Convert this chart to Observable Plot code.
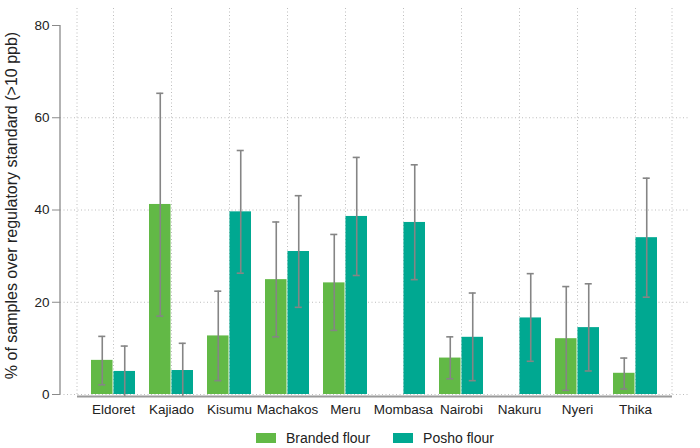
<!DOCTYPE html>
<html>
<head>
<meta charset="utf-8">
<script src="https://cdn.jsdelivr.net/npm/d3@7"></script>
<script src="https://cdn.jsdelivr.net/npm/@observablehq/plot@0.6"></script>
<style>
  html, body { margin: 0; padding: 0; background: #fff; }
  body { width: 700px; height: 448px; position: relative; font-family: "Liberation Sans", Arial, sans-serif; color: #222; }
  #legend { position: absolute; left: 256px; top: 430px; display: flex; align-items: center; font-size: 14px; }
  #legend .sw { width: 20px; height: 10px; display: inline-block; margin-right: 10px; }
  #legend .item { display: flex; align-items: center; margin-right: 23px; }
</style>
</head>
<body>
<div id="chart"></div>
<div id="legend"></div>
<script>
// Share of flour samples above the 10 ppb aflatoxin standard, by town
const cities = ["Eldoret", "Kajiado", "Kisumu", "Machakos", "Meru", "Mombasa", "Nairobi", "Nakuru", "Nyeri", "Thika"];

const brandedPct  = [7.4, 41.2, 12.7, 24.9, 24.2, null, 7.9, null, 12.1, 4.6];
const brandedLow  = [2.1, 17.0, 3.0, 12.5, 13.9, null, 3.4, null, 0.9, 1.2];
const brandedHigh = [12.6, 65.3, 22.4, 37.4, 34.7, null, 12.5, null, 23.4, 7.9];

const poshoPct  = [5.0, 5.2, 39.6, 31.0, 38.6, 37.3, 12.4, 16.6, 14.5, 34.0];
const poshoLow  = [-0.5, -0.5, 26.3, 18.9, 25.8, 24.9, 3.0, 7.2, 5.1, 21.1];
const poshoHigh = [10.5, 11.1, 52.9, 43.1, 51.4, 49.8, 22.0, 26.2, 24.0, 46.9];

const yTicks = [0, 20, 40, 60, 80];
const seriesNames = ["Branded flour", "Posho flour"];
const seriesColors = ["#62b946", "#00a891"];

const yTitle = "% of samples over regulatory standard (>10 ppb)";

// Rows for each series (missing groups are dropped)
const branded = cities.map((c, i) => ({city: c, v: brandedPct[i], lo: brandedLow[i], hi: brandedHigh[i]})).filter(d => d.v != null);
const posho = cities.map((c, i) => ({city: c, v: poshoPct[i], lo: poshoLow[i], hi: poshoHigh[i]})).filter(d => d.v != null);

const xRange = [77, 672];
const padInner = 0.235, padOuter = 0.18;
const bw = d3.scaleBand().domain(cities).range(xRange).paddingInner(padInner).paddingOuter(padOuter).bandwidth();
const half = bw / 2;
const capW = 8;
const errColor = "#858585";
const gridStyle = {stroke: "#bdbdbd", strokeOpacity: 1, strokeWidth: 1, strokeDasharray: "1,2.5"};

function errorMarks(rows, shift) {
  return [
    Plot.ruleX(rows, {x: "city", y1: "lo", y2: "hi", dx: shift, stroke: errColor, strokeWidth: 1.6}),
    Plot.tickY(rows.filter(d => d.hi > 0), {x: "city", y: "hi", dx: shift, stroke: errColor, strokeWidth: 1.6,
      insetLeft: (bw - capW) / 2, insetRight: (bw - capW) / 2}),
    Plot.tickY(rows.filter(d => d.lo > 0), {x: "city", y: "lo", dx: shift, stroke: errColor, strokeWidth: 1.6,
      insetLeft: (bw - capW) / 2, insetRight: (bw - capW) / 2})
  ];
}

const chart = Plot.plot({
  width: 700,
  height: 420,
  marginLeft: 60,
  marginRight: 10,
  marginTop: 8,
  marginBottom: 26,
  style: {fontFamily: "'Liberation Sans', Arial, sans-serif", color: "#222", background: "#fff"},
  x: {domain: cities, range: xRange, paddingInner: padInner, paddingOuter: padOuter},
  y: {domain: [0, 80], range: [394, 25]},
  marks: [
    Plot.gridX(cities, {...gridStyle}),
    Plot.gridY([0, 20, 40, 60], {...gridStyle}),
    Plot.barY(branded, {x: "city", y: "v", fill: seriesColors[0], insetRight: half}),
    Plot.barY(posho, {x: "city", y: "v", fill: seriesColors[1], insetLeft: half}),
    ...errorMarks(branded, -half / 2),
    ...errorMarks(posho, half / 2),
    Plot.axisY({ticks: yTicks, tickSize: 8, tickPadding: 3, fontSize: 13.5, stroke: "#8a8a8a", label: null}),
    Plot.axisX({tickSize: 0, tickPadding: 10, fontSize: 13.5, label: null}),
    Plot.text([yTitle], {frameAnchor: "left", textAnchor: "middle", lineAnchor: "middle", rotate: -90, dx: -49, dy: 4, fontSize: 16, fill: "#222"})
  ]
});

document.getElementById("chart").appendChild(chart);

// Axis lines and outer dotted bounds, placed from the chart's own scales
const sx = chart.scale("x"), sy = chart.scale("y");
const svg = d3.select(chart);
const [x0, x1] = sx.range;
const yBase = sy.apply(0), yTop = sy.apply(80);
const g = svg.append("g");
[x0, x1].forEach(x => {
  g.append("line").attr("x1", x).attr("x2", x).attr("y1", 8).attr("y2", yBase)
    .attr("stroke", "#bdbdbd").attr("stroke-dasharray", "1,2.5");
});
g.append("line").attr("x1", 60).attr("x2", 60).attr("y1", yTop).attr("y2", yBase)
  .attr("stroke", "#8a8a8a").attr("stroke-width", 1.3);
g.append("line").attr("x1", x0).attr("x2", x1).attr("y1", yBase + 2.5).attr("y2", yBase + 2.5)
  .attr("stroke", "#9a9a9a").attr("stroke-width", 2);

// Legend
const legend = d3.select("#legend");
seriesNames.forEach((name, i) => {
  const item = legend.append("div").attr("class", "item");
  item.append("span").attr("class", "sw").style("background", seriesColors[i]);
  item.append("span").text(name);
});
</script>
</body>
</html>
